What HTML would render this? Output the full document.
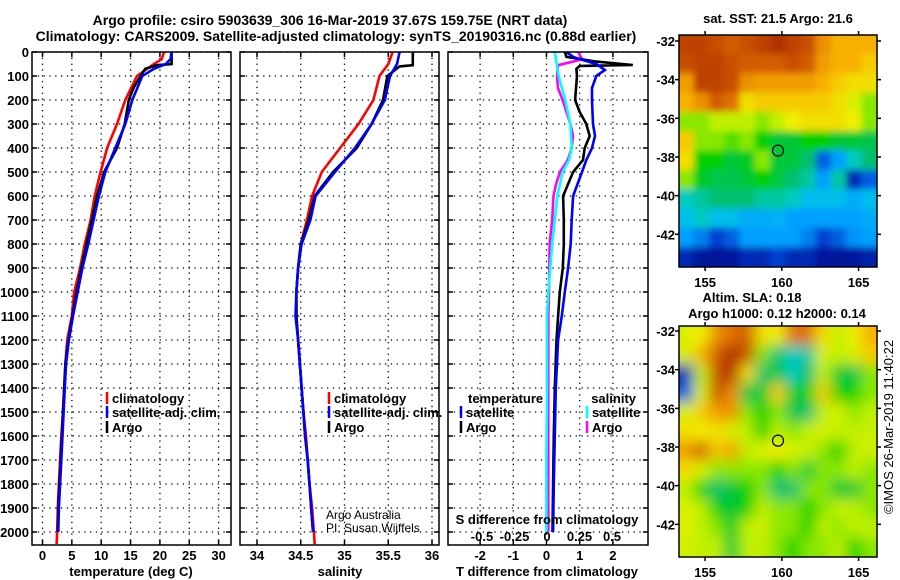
<!DOCTYPE html>
<html><head><meta charset="utf-8">
<style>
html,body{margin:0;padding:0;background:#fff;}
svg{display:block;font-family:"Liberation Sans",Arial,sans-serif;}
.b{font-weight:bold;font-size:13px;}
.t{font-weight:bold;font-size:14px;}
.thin{font-size:12px;}
</style></head>
<body>
<svg id="chart" width="900" height="580" viewBox="0 0 900 580">
<defs>
<filter id="blurS" x="-0.2" y="-0.2" width="1.4" height="1.4"><feGaussianBlur stdDeviation="3.5"/></filter>
<filter id="blurA" x="-0.2" y="-0.2" width="1.4" height="1.4"><feGaussianBlur stdDeviation="7"/></filter>
<clipPath id="clipSST"><rect x="679" y="35" width="198" height="232"/></clipPath>
<clipPath id="clipSLA"><rect x="679" y="326" width="198" height="231"/></clipPath>
</defs>
<text class="t" x="330" y="25" text-anchor="middle">Argo profile: csiro 5903639_306 16-Mar-2019 37.67S 159.75E (NRT data)</text>
<text class="t" x="336" y="41" text-anchor="middle">Climatology: CARS2009. Satellite-adjusted climatology: synTS_20190316.nc (0.88d earlier)</text>
<g id="layer"></g>
</svg>
<script>
// ---- data ----
const tArgoDepth=[0,50,55,70,100,150,200,300,400,500,600,700,800,900,1000,1100,1200,1300,1400,1500,1600,1700,1800,1900,2000];
const tArgo=[22.0,22.0,19.5,17.5,16.7,15.5,14.7,14.0,12.7,10.5,9.3,8.4,7.5,6.6,5.8,5.1,4.4,3.9,3.7,3.5,3.3,3.1,2.9,2.7,2.6];
const tSatDepth=[0,30,50,70,100,200,300,400,500,600,700,800,900,1000,1100,1200,1300,1400,1500,1600,1700,1800,1900,2000];
const tSat=[22.0,21.8,21.0,19,17,15.3,14.1,12.4,10.7,9.6,8.7,7.8,6.8,6.0,5.2,4.5,4.0,3.8,3.6,3.4,3.2,3.0,2.8,2.7];
const tClimDepth=[0,30,50,100,200,300,400,500,600,700,800,900,1000,1100,1200,1300,1400,1500,1600,1700,1800,1900,2000,2050];
const tClim=[20.7,20.3,19,16.1,14.1,12.7,11,9.9,8.9,8.2,7.2,6.4,5.4,5.0,4.2,3.9,3.7,3.5,3.2,3.0,2.8,2.6,2.5,2.4];

const sArgoDepth=[0,55,60,100,200,300,400,500,600,700,800,900,1000,1100,1200,1300,1400,1500,1600,1700,1800,1900,2000];
const sArgo=[35.78,35.78,35.63,35.49,35.44,35.31,35.14,34.87,34.66,34.59,34.5,34.47,34.45,34.45,34.47,34.49,34.51,34.53,34.55,34.58,34.6,34.62,34.64];
const sSatDepth=[0,50,100,200,300,400,500,600,700,800,900,1000,1100,1200,1300,1400,1500,1600,1700,1800,1900,2000];
const sSat=[35.63,35.6,35.52,35.46,35.31,35.12,34.89,34.67,34.61,34.51,34.47,34.45,34.44,34.47,34.49,34.51,34.53,34.55,34.58,34.6,34.62,34.64];
const sClimDepth=[0,50,100,200,300,400,500,600,700,800,900,1000,1100,1200,1300,1400,1500,1600,1700,1800,1900,2000,2050];
const sClim=[35.55,35.5,35.4,35.33,35.16,34.95,34.74,34.63,34.57,34.5,34.47,34.45,34.45,34.47,34.49,34.51,34.53,34.56,34.58,34.6,34.63,34.65,34.66];

const dtArgoDepth=[0,20,40,54,58,70,100,200,250,300,350,400,450,500,550,600,700,800,900,1000,1100,1200,1400,1600,1800,2000];
const dtArgo=[0.55,0.6,1.5,2.6,1.0,0.9,0.92,0.86,1.0,1.2,1.3,1.15,1.1,0.8,0.65,0.5,0.52,0.52,0.49,0.4,0.35,0.3,0.25,0.22,0.2,0.18];
const dtSatDepth=[0,20,30,50,75,100,150,200,300,350,400,450,500,600,700,800,900,1000,1100,1200,1400,1600,1800,2000];
const dtSat=[0.6,0.8,1.0,1.5,1.76,1.5,1.37,1.37,1.4,1.46,1.37,1.2,1.07,0.8,0.76,0.73,0.65,0.55,0.46,0.35,0.28,0.25,0.22,0.2];
const dsArgoDepth=[0,30,40,55,100,150,200,300,350,400,450,500,550,600,700,800,1000,1100,1400,1700,2000];
const dsArgo=[0.24,0.27,0.2,0.085,0.077,0.085,0.12,0.18,0.2,0.19,0.16,0.1,0.07,0.05,0.04,0.02,0.015,0.01,0.01,0.01,0.01];
const dsSatDepth=[0,100,200,300,400,450,500,600,800,1000,1100,1400,1700,2000];
const dsSat=[0.06,0.09,0.14,0.18,0.19,0.17,0.12,0.08,0.04,0.01,0,0,-0.005,-0.005];

const depthTicks=[0,100,200,300,400,500,600,700,800,900,1000,1100,1200,1300,1400,1500,1600,1700,1800,1900,2000];
const tempTicks=[0,5,10,15,20,25,30];
const salTicks=[34,34.5,35,35.5,36];
const salTickLabels=["34","34.5","35","35.5","36"];
const dtTicks=[-2,-1,0,1,2];
const dsTicks=[-0.5,-0.25,0,0.25,0.5];
const dsTickLabels=["-0.5","-0.25","0","0.25","0.5"];
const latTicks=[-32,-34,-36,-38,-40,-42];
const lonTicks=[155,160,165];
const profLon=159.75, profLat=-37.67;
const sstGrid=[
[0.92,0.92,0.9,0.88,0.9,0.92,0.95,0.92,0.9,0.8,0.75,0.75,0.75],
[0.9,0.92,0.92,0.9,0.88,0.88,0.88,0.9,0.88,0.78,0.75,0.75,0.72],
[0.78,0.92,0.92,0.9,0.8,0.78,0.78,0.78,0.78,0.75,0.72,0.7,0.7],
[0.75,0.8,0.88,0.85,0.7,0.72,0.72,0.72,0.72,0.72,0.7,0.65,0.6],
[0.6,0.6,0.62,0.62,0.62,0.6,0.62,0.68,0.7,0.7,0.7,0.68,0.6],
[0.72,0.6,0.6,0.58,0.6,0.55,0.5,0.5,0.55,0.55,0.5,0.5,0.48],
[0.7,0.55,0.55,0.5,0.52,0.6,0.5,0.5,0.45,0.2,0.3,0.4,0.45],
[0.6,0.52,0.48,0.48,0.5,0.55,0.5,0.45,0.42,0.3,0.42,0.1,0.2],
[0.4,0.42,0.45,0.45,0.45,0.42,0.42,0.4,0.35,0.35,0.35,0.32,0.35],
[0.35,0.4,0.35,0.35,0.32,0.32,0.33,0.3,0.3,0.3,0.3,0.3,0.32],
[0.3,0.25,0.15,0.2,0.3,0.3,0.3,0.3,0.25,0.15,0.2,0.28,0.3],
[0.1,0.05,0.05,0.05,0.1,0.1,0.15,0.1,0.1,0.05,0.05,0.05,0.08]];
const slaGrid=[
[0.65,0.68,0.8,0.85,0.88,0.7,0.68,0.85,0.85,0.7,0.62,0.68,0.75],
[0.65,0.75,0.88,0.95,0.9,0.6,0.45,0.4,0.42,0.65,0.62,0.65,0.72],
[0.1,0.62,0.9,0.95,0.7,0.45,0.5,0.4,0.45,0.62,0.5,0.48,0.6],
[0.2,0.65,0.9,0.8,0.48,0.5,0.72,0.5,0.55,0.72,0.55,0.55,0.6],
[0.65,0.72,0.78,0.8,0.6,0.55,0.6,0.48,0.45,0.62,0.65,0.6,0.62],
[0.7,0.68,0.7,0.65,0.62,0.55,0.62,0.6,0.62,0.65,0.62,0.62,0.63],
[0.78,0.88,0.72,0.78,0.62,0.66,0.68,0.65,0.63,0.6,0.55,0.62,0.64],
[0.7,0.65,0.6,0.6,0.6,0.6,0.55,0.6,0.5,0.6,0.6,0.62,0.6],
[0.62,0.55,0.45,0.5,0.55,0.6,0.45,0.45,0.6,0.6,0.5,0.5,0.6],
[0.65,0.62,0.55,0.5,0.55,0.62,0.6,0.6,0.55,0.6,0.62,0.62,0.6],
[0.66,0.62,0.6,0.52,0.62,0.64,0.6,0.6,0.55,0.62,0.6,0.62,0.62],
[0.64,0.62,0.62,0.5,0.62,0.62,0.6,0.55,0.6,0.6,0.62,0.55,0.6]];

// ---- scales ----
const NS="http://www.w3.org/2000/svg";
const layer=document.getElementById('layer');
const Y0=52, YPX=0.24, YBOT=545;
const yD=d=>Y0+d*YPX;
const xT=v=>42.5+v*5.87;
const xS=v=>257+(v-34)*87.5;
const xDT=v=>546.5+v*33.2;
const xDS=v=>547+v*130;
function mk(tag,attrs,parent){const e=document.createElementNS(NS,tag);for(const k in attrs)e.setAttribute(k,attrs[k]);(parent||layer).appendChild(e);return e;}
function txt(x,y,s,cls,anchor,parent){const e=mk('text',{x:x,y:y,class:cls||'b','text-anchor':anchor||'middle'},parent);e.textContent=s;return e;}

const panels=[{x0:32,x1:231,name:'temperature'},{x0:240,x1:439,name:'salinity'},{x0:448,x1:648,name:'difference'}];
panels.forEach(p=>{
  const g=mk('g',{});
  
  
  depthTicks.forEach(d=>{
    const l=mk('line',{x1:p.x0,x2:p.x1,y1:yD(d),y2:yD(d),stroke:'#000','stroke-width':1.3,'stroke-dasharray':'1.3 4.5'},g);
    
    
    mk('line',{x1:p.x0,x2:p.x0+5,y1:yD(d),y2:yD(d),stroke:'#000','stroke-width':1.5},g);
    mk('line',{x1:p.x1-5,x2:p.x1,y1:yD(d),y2:yD(d),stroke:'#000','stroke-width':1.5},g);
  });
});
function vgrid(ticks,fx,p){ticks.forEach(v=>{const l=mk('line',{x1:fx(v),x2:fx(v),y1:Y0,y2:YBOT,stroke:'#000','stroke-width':1.3,'stroke-dasharray':'1.3 4.5'});
  
  
  mk('line',{x1:fx(v),x2:fx(v),y1:YBOT-5,y2:YBOT,stroke:'#000','stroke-width':1.5});
  mk('line',{x1:fx(v),x2:fx(v),y1:Y0,y2:Y0+5,stroke:'#000','stroke-width':1.5});});}
vgrid(tempTicks,xT);vgrid(salTicks,xS);vgrid(dtTicks,xDT);

depthTicks.forEach(d=>{const e=txt(29,yD(d)+5,String(d),'b','end');
  
  });
tempTicks.forEach(v=>{const e=txt(xT(v),560,String(v));
  
  });
salTicks.forEach((v,i)=>{const e=txt(xS(v),560,salTickLabels[i]);
  
  });
dtTicks.forEach(v=>{const e=txt(xDT(v),560,String(v));
  
  });
dsTicks.forEach((v,i)=>{const e=txt(xDS(v),541,dsTickLabels[i]);
  
  });

function series(depths,vals,fx,color,name){
  const pts=depths.map((d,i)=>fx(vals[i]).toFixed(1)+','+yD(d).toFixed(1)).join(' ');
  const e=mk('polyline',{points:pts,fill:'none',stroke:color,'stroke-width':2.6,'stroke-linejoin':'miter'});
  
  
}
series(tClimDepth,tClim,xT,'#f00','temp-climatology-line');
series(tArgoDepth,tArgo,xT,'#000','temp-argo-line');
series(tSatDepth,tSat,xT,'#00f','temp-satellite-line');
series(sClimDepth,sClim,xS,'#f00','sal-climatology-line');
series(sArgoDepth,sArgo,xS,'#000','sal-argo-line');
series(sSatDepth,sSat,xS,'#00f','sal-satellite-line');
series(dsArgoDepth,dsArgo,xDS,'#f0f','s-diff-argo-line');
series(dsSatDepth,dsSat,xDS,'#0ff','s-diff-satellite-line');
series(dtArgoDepth,dtArgo,xDT,'#000','t-diff-argo-line');
series(dtSatDepth,dtSat,xDT,'#00f','t-diff-satellite-line');

panels.forEach(p=>{const r=mk('rect',{x:p.x0,y:Y0,width:p.x1-p.x0,height:YBOT-Y0,fill:'none',stroke:'#000','stroke-width':1.5});
  
  });

[[131,576,'temperature (deg C)','temperature-axis-title'],[340,576,'salinity','salinity-axis-title'],[547,576,'T difference from climatology','t-diff-axis-title'],[547,524,'S difference from climatology','s-diff-axis-title']].forEach(a=>{
  const e=txt(a[0],a[1],a[2]);
  
  });

function legend(x,y,color,label,name){
  const g=mk('g',{});
  
  
  mk('line',{x1:x,x2:x,y1:y-11,y2:y+1,stroke:color,'stroke-width':2.5},g);
  txt(x+5,y,label,'b','start',g);
}
legend(107,403,'#f00','climatology','legend-temp-climatology');
legend(107,417,'#00f','satellite-adj. clim.','legend-temp-satellite');
legend(107,432,'#000','Argo','legend-temp-argo');
legend(329,403,'#f00','climatology','legend-sal-climatology');
legend(329,417,'#00f','satellite-adj. clim.','legend-sal-satellite');
legend(329,432,'#000','Argo','legend-sal-argo');
{const e=txt(468,403,'temperature','b','start');}
{const e=txt(636,403,'salinity','b','end');}
legend(461,417,'#00f','satellite','legend-t-diff-satellite');
legend(461,432,'#000','Argo','legend-t-diff-argo');
legend(587,417,'#0ff','satellite','legend-s-diff-satellite');
legend(587,432,'#f0f','Argo','legend-s-diff-argo');
{const e=txt(326,519,'Argo Australia','thin','start');}
{const e=txt(326,532,'PI: Susan Wijffels','thin','start');}

// ---- maps ----
const LON0=153.3, LON1=166.2, MX0=679, MX1=877;
const xLon=v=>MX0+(v-LON0)*(MX1-MX0)/(LON1-LON0);
function cmap(v){
  const st=[[0,[0,0,128]],[0.15,[0,64,208]],[0.3,[0,160,255]],[0.38,[0,208,224]],[0.45,[0,192,112]],[0.55,[0,208,0]],[0.62,[192,240,0]],[0.68,[240,240,0]],[0.75,[248,176,0]],[0.85,[224,112,0]],[0.95,[176,48,0]],[1,[160,0,0]]];
  v=Math.max(0,Math.min(1,v));
  for(let i=1;i<st.length;i++){if(v<=st[i][0]){const a=st[i-1],b=st[i],f=(v-a[0])/(b[0]-a[0]);
    return 'rgb('+a[1].map((c,k)=>Math.round(c+(b[1][k]-c)*f)).join(',')+')';}}
  return 'rgb(160,0,0)';
}
function drawMap(grid,top,bot,latTop,latBot,clip,filt,name){
  const yLat=v=>top+(latTop-v)*(bot-top)/(latTop-latBot);
  const g=mk('g',{'clip-path':'url(#'+clip+')'});
  
  
  const gi=mk('g',{filter:'url(#'+filt+')'},g);
  const rows=grid.length, cols=grid[0].length;
  const cw=(MX1-MX0)/cols, ch=(bot-top)/rows, pad=25;
  grid.forEach((row,r)=>row.forEach((v,c)=>{
    let x=MX0+c*cw-0.5, y=top+r*ch-0.5, w=cw+1, h=ch+1;
    if(c===0){x-=pad;w+=pad;} if(c===cols-1){w+=pad;}
    if(r===0){y-=pad;h+=pad;} if(r===rows-1){h+=pad;}
    mk('rect',{x:x,y:y,width:w,height:h,fill:cmap(v)},gi);}));
  const fr=mk('rect',{x:MX0,y:top,width:MX1-MX0,height:bot-top,fill:'none',stroke:'#000','stroke-width':1.5});
  
  
  latTicks.forEach(v=>{const y=yLat(v);
    mk('line',{x1:MX0-4,x2:MX0,y1:y,y2:y,stroke:'#000','stroke-width':1.5});
    mk('line',{x1:MX1,x2:MX1+4,y1:y,y2:y,stroke:'#000','stroke-width':1.5});
    const e=txt(MX0-4,y+5,String(v),'b','end');
    
    });
  lonTicks.forEach(v=>{const x=xLon(v);
    mk('line',{x1:x,x2:x,y1:top-4,y2:top,stroke:'#000','stroke-width':1.5});
    mk('line',{x1:x,x2:x,y1:bot,y2:bot+4,stroke:'#000','stroke-width':1.5});
    const e=txt(x,bot+20,String(v));
    
    });
  const c=mk('circle',{cx:xLon(profLon),cy:yLat(profLat),r:5.5,fill:'none',stroke:'#000','stroke-width':1.2});
  
  
}
drawMap(sstGrid,35,267,-31.69,-43.69,'clipSST','blurS','sst-map');
drawMap(slaGrid,326,557,-31.74,-43.69,'clipSLA','blurA','sla-map');
{const e=txt(778,23,'sat. SST: 21.5 Argo: 21.6');}
{const e=txt(752,302,'Altim. SLA: 0.18');}
{const e=txt(777,318,'Argo h1000: 0.12 h2000: 0.14');}
{const e=txt(0,0,'©IMOS 26-Mar-2019 11:40:22','thin','middle');e.setAttribute('transform','translate(893,427) rotate(-90)');e.setAttribute('style','font-size:13px');
 }
</script>
</body></html>
